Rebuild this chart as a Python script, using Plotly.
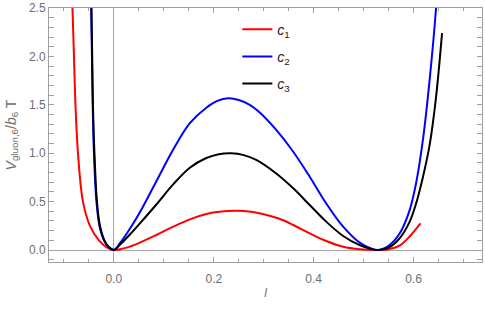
import plotly.graph_objects as go

# ---- data ----
c1_x = [-0.086, -0.083, -0.080, -0.077, -0.072, -0.062, -0.048, -0.030, -0.015, 0.0,
        0.012, 0.032, 0.052, 0.085, 0.119, 0.152, 0.185, 0.215, 0.245, 0.275,
        0.300, 0.330, 0.359, 0.392, 0.425, 0.459, 0.492, 0.527, 0.552, 0.572, 0.592, 0.614]
c1_y = [3.0, 2.5, 2.0, 1.5, 1.0, 0.5, 0.25, 0.10, 0.03, 0.0,
        0.008, 0.035, 0.076, 0.155, 0.241, 0.317, 0.372, 0.397, 0.405, 0.395,
        0.370, 0.325, 0.258, 0.172, 0.093, 0.034, 0.008, 0.0, 0.01, 0.045, 0.14, 0.275]

c2_x = [-0.0462, -0.0455, -0.044, -0.0425, -0.040, -0.035, -0.029, -0.020, -0.011, 0.0,
        0.012, 0.032, 0.052, 0.085, 0.119, 0.152, 0.185, 0.207, 0.229, 0.250, 0.272, 0.292,
        0.325, 0.359, 0.392, 0.425, 0.459, 0.492, 0.515, 0.530, 0.552, 0.572, 0.592, 0.605,
        0.619, 0.632, 0.645, 0.651]
c2_y = [2.9, 2.5, 2.0, 1.5, 1.0, 0.5, 0.25, 0.10, 0.03, 0.0,
        0.07, 0.22, 0.39, 0.71, 1.04, 1.31, 1.47, 1.54, 1.567, 1.55, 1.50, 1.42,
        1.24, 1.015, 0.757, 0.482, 0.241, 0.076, 0.015, 0.0, 0.052, 0.17, 0.41, 0.69,
        1.15, 1.75, 2.5, 3.0]

c3_x = [-0.0455, -0.045, -0.0435, -0.042, -0.039, -0.034, -0.028, -0.019, -0.010, 0.0,
        0.012, 0.032, 0.052, 0.085, 0.119, 0.152, 0.185, 0.210, 0.235, 0.260, 0.285, 0.325,
        0.359, 0.392, 0.425, 0.459, 0.492, 0.515, 0.530, 0.552, 0.572, 0.592, 0.605, 0.619,
        0.632, 0.645, 0.657]
c3_y = [2.8, 2.5, 2.0, 1.5, 1.0, 0.5, 0.25, 0.10, 0.03, 0.0,
        0.055, 0.16, 0.275, 0.47, 0.68, 0.85, 0.95, 0.99, 1.0, 0.98, 0.93, 0.79,
        0.637, 0.465, 0.293, 0.145, 0.05, 0.01, 0.0, 0.03, 0.12, 0.29, 0.48, 0.76,
        1.08, 1.58, 2.24]

names = ["<i>c</i><sub>1</sub>", "<i>c</i><sub>2</sub>", "<i>c</i><sub>3</sub>"]
colors = ["#ff0000", "#0000ff", "#000000"]
series = [(c1_x, c1_y), (c2_x, c2_y), (c3_x, c3_y)]

x_range = [-0.130, 0.737]
y_range = [-0.124, 2.5]

fig = go.Figure()
for i, ((xs, ys), nm, col) in enumerate(zip(series, names, colors)):
    fig.add_trace(go.Scatter(x=xs, y=ys, mode="lines", name=nm, legendgroup=f"g{i}",
                             line=dict(color=col, width=2, shape="spline", smoothing=1.0)))
# empty helper trace so the tick-only overlay axis is drawn
fig.add_trace(go.Scatter(x=[], y=[], xaxis="x2", showlegend=False, hoverinfo="skip"))

frame = "#a0a0a0"
tickfont = dict(family="Liberation Sans, Arial, sans-serif", size=12, color="#6e6e6e")

fig.update_layout(
    width=485, height=311,
    margin=dict(l=49, r=3, t=8, b=49),
    paper_bgcolor="white", plot_bgcolor="white",
    showlegend=True,
    legend=dict(x=0.435, y=0.978, xanchor="left", yanchor="top", tracegroupgap=6,
                bgcolor="rgba(0,0,0,0)", itemwidth=30,
                font=dict(family="Liberation Sans, Arial, sans-serif", size=14, color="#222222")),
    xaxis=dict(range=x_range, showgrid=False, tick0=0, dtick=0.2, tickformat=".1f",
               ticks="outside", ticklen=6, tickcolor="rgba(0,0,0,0)", showline=True,
               linecolor=frame, linewidth=1, mirror=True, tickfont=tickfont, automargin=False,
               zeroline=True, zerolinecolor="#a6a6a6", zerolinewidth=1,
               title=dict(text="<i>l</i>", font=tickfont, standoff=3)),
    xaxis2=dict(range=x_range, overlaying="x", side="bottom", showgrid=False, tick0=0,
                dtick=0.2, ticks="inside", ticklen=5, tickcolor=frame, showline=False,
                mirror="allticks", showticklabels=False, zeroline=False, automargin=False,
                minor=dict(dtick=0.05, ticks="inside", ticklen=3, tickcolor=frame,
                           showgrid=False)),
    yaxis=dict(range=y_range, showgrid=False, tick0=0, dtick=0.5, tickformat=".1f",
               ticks="inside", ticklen=5, tickcolor=frame, showline=True, linecolor=frame,
               linewidth=1, mirror="allticks", tickfont=tickfont, automargin=False,
               zeroline=True, zerolinecolor="#a6a6a6", zerolinewidth=1,
               minor=dict(dtick=0.1, ticks="inside", ticklen=3, tickcolor=frame, showgrid=False),
               title=dict(text="<i>V</i><sub>gluon,6</sub>/<i>b</i><sub>6</sub> T",
                          font=dict(family="Liberation Sans, Arial, sans-serif", size=14,
                                    color="#6e6e6e"), standoff=9)),
)

fig.write_html("out.html", post_script="document.body.style.margin='0';",
               config={"displayModeBar": False})
